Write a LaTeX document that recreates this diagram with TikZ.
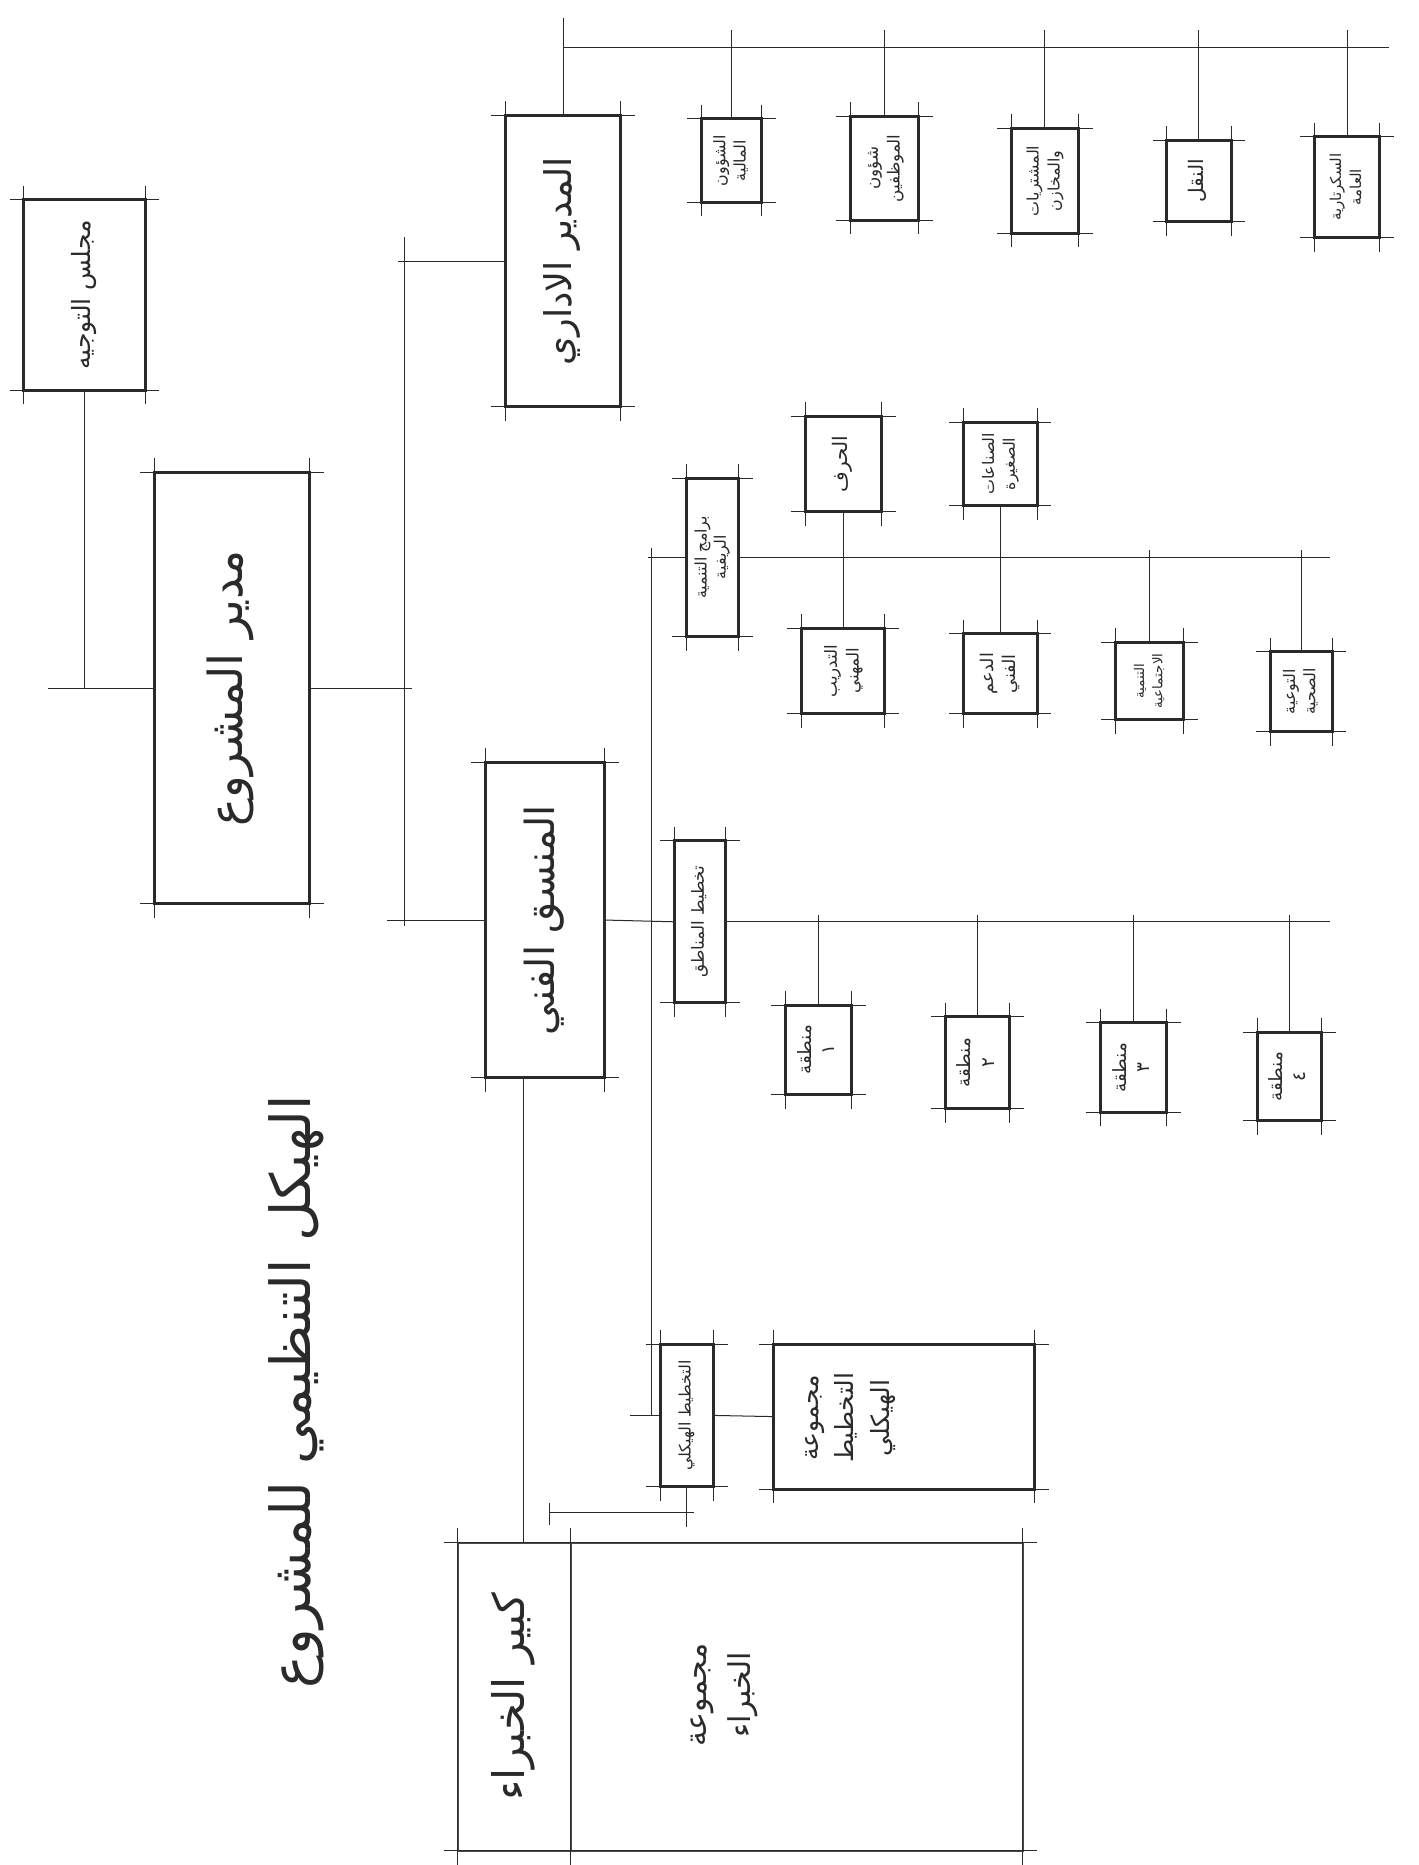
\documentclass[tikz,border=0pt]{standalone}
\usepackage{fontspec}
\usepackage{graphicx}
\usetikzlibrary{calc}
\newfontfamily\arabicfont[Script=Arabic]{DejaVu Sans}
\TeXXeTstate=1
\definecolor{ink}{HTML}{2A2A2A}
\newcommand\ar[1]{\beginR #1\endR}
\newcommand\rtx[3]{{\arabicfont\fontsize{#1}{#2}\selectfont\color{ink}\rotatebox{90}{\begin{tabular}{@{}c@{}}#3\end{tabular}}}}
\newcommand\ovh[1]{%
  \draw[ovl] ($(#1.north west)+(-12,0)$) -- ($(#1.north east)+(12,0)$);%
  \draw[ovl] ($(#1.south west)+(-12,0)$) -- ($(#1.south east)+(12,0)$);%
  \draw[ovl] ($(#1.north west)+(0,-12)$) -- ($(#1.south west)+(0,12)$);%
  \draw[ovl] ($(#1.north east)+(0,-12)$) -- ($(#1.south east)+(0,12)$);%
}
\newcommand\mkbox[7][bx]{%
  \pgfmathsetmacro\bxw{abs(#5-#3)*0.025}%
  \pgfmathsetmacro\bxh{abs(#6-#4)*0.025}%
  \pgfmathsetmacro\bxcx{(#3+#5)/2}%
  \pgfmathsetmacro\bxcy{(#4+#6)/2}%
  \node[#1, minimum width=\bxw cm, minimum height=\bxh cm] (#2) at (\bxcx,\bxcy) {#7};%
  \ovh{#2}%
}
\begin{document}
\begin{tikzpicture}[x=0.025cm,y=-0.025cm,
  bx/.style={draw=ink, line width=1.8pt, inner sep=0pt, outer sep=0pt, rectangle},
  tbx/.style={draw=ink!85, line width=1pt, inner sep=0pt, outer sep=0pt, rectangle},
  ovl/.style={draw=ink, line width=0.6pt},
  cn/.style={draw=ink, line width=0.6pt},
  txt/.style={inner sep=0pt, outer sep=0pt}]
\useasboundingbox[fill=white] (0,0) rectangle (1193,1568);

% main boxes
\mkbox{steer}{20}{168}{122}{328}{\rtx{15}{18}{\ar{مجلس التوجيه}}}
\mkbox{pm}{130}{397}{260}{760}{\rtx{28}{32}{\ar{مدير المشروع}}}
\mkbox{adm}{425}{97}{522}{342}{\rtx{22}{26}{\ar{المدير الاداري}}}
\mkbox{tech}{408}{641}{508}{906}{\rtx{24}{28}{\ar{المنسق الفني}}}

% administrative children
\mkbox{c1}{590}{100}{640}{170}{\rtx{9.5}{12}{\ar{الشؤون}\\\ar{المالية}}}
\mkbox{c2}{715}{98}{772}{185}{\rtx{10}{13}{\ar{شؤون}\\\ar{الموظفين}}}
\mkbox{c3}{850}{108}{907}{196}{\rtx{9.5}{12.5}{\ar{المشتريات}\\\ar{والمخازن}}}
\mkbox{c4}{981}{118}{1035}{186}{\rtx{12}{14}{\ar{النقل}}}
\mkbox{c5}{1105}{115}{1160}{200}{\rtx{9}{12}{\ar{السكرتارية}\\\ar{العامة}}}

% programmes group
\mkbox{P2}{577}{402}{621}{535}{\rtx{9.5}{11.5}{\ar{برامج التنمية}\\\ar{الريفية}}}
\mkbox{T1}{677}{350}{741}{430}{\rtx{12}{14}{\ar{الحرف}}}
\mkbox{T2}{810}{355}{872}{425}{\rtx{9.5}{12.5}{\ar{الصناعات}\\\ar{الصغيرة}}}
\mkbox{B1}{674}{528}{744}{600}{\rtx{10}{13}{\ar{التدريب}\\\ar{المهني}}}
\mkbox{B2}{810}{533}{872}{600}{\rtx{10.5}{13}{\ar{الدعم}\\\ar{الفني}}}
\mkbox{B3}{938}{540}{995}{605}{\rtx{8}{11}{\ar{التنمية}\\\ar{الاجتماعية}}}
\mkbox{B4}{1068}{548}{1120}{615}{\rtx{9.5}{12}{\ar{التوعية}\\\ar{الصحية}}}

% zones group
\mkbox{P3}{567}{707}{610}{843}{\rtx{10}{12}{\ar{تخطيط المناطق}}}
\mkbox{C1}{660}{845}{716}{920}{\rtx{11}{14}{\ar{منطقة}\\\ar{١}}}
\mkbox{C2}{795}{855}{849}{932}{\rtx{11}{14}{\ar{منطقة}\\\ar{٢}}}
\mkbox{C3}{925}{860}{981}{935}{\rtx{11}{14}{\ar{منطقة}\\\ar{٣}}}
\mkbox{C4}{1057}{868}{1111}{942}{\rtx{11}{14}{\ar{منطقة}\\\ar{٤}}}

% structural planning
\mkbox{P4}{555}{1130}{600}{1250}{\rtx{9.5}{11}{\ar{التخطيط الهيكلي}}}
\mkbox{W}{650}{1130}{870}{1252}{}
\node[txt] (wt) at (712,1192) {\rtx{15}{21}{\ar{مجموعة}\\\ar{التخطيط}\\\ar{الهيكلي}}};

% experts
\mkbox[tbx]{K}{385}{1297}{480}{1556}{\rtx{26}{30}{\ar{كبير الخبراء}}}
\mkbox[tbx]{E}{480}{1297}{860}{1556}{}
\node[txt] (et) at (605,1425) {\rtx{18}{26}{\ar{مجموعة}\\\ar{الخبراء}}};

% title
\node[txt] (title) at (250,1170) {\rtx{33}{38}{\ar{الهيكل التنظيمي للمشروع}}};

% connectors: steering committee
\coordinate (j1) at (40,0);
\draw[cn] (steer.south) -- (steer.south |- pm.west);
\draw[cn] (pm.west -| j1) -- (pm.west);

% project manager to the two managers
\coordinate (v1) at (340,0);
\draw[cn] (pm.east) -- ($(pm.east -| v1)+(6,0)$);
\draw[cn] ($(adm.west -| v1)+(0,-20)$) -- ($(tech.west -| v1)+(0,5)$);
\draw[cn] ($(adm.west -| v1)+(-5,0)$) -- (adm.west);
\draw[cn] ($(tech.west -| v1)+(-15,0)$) -- (tech.west);

% administrative bus
\coordinate (t0) at (0,15);
\coordinate (bus) at (0,40);
\coordinate (busR) at (1168,40);
\draw[cn] (adm.north) -- (adm.north |- t0);
\draw[cn] (adm.north |- bus) -- (busR);
\foreach \c in {c1,c2,c3,c4,c5}
  \draw[cn] (\c.north) -- ($(\c.north |- bus)+(0,-15)$);

% technical coordinator branches
\coordinate (v2) at (548,0);
\draw[cn] ($(P2.west -| v2)+(0,-8)$) -- (P4.west -| v2);
\draw[cn] ($(P2.west -| v2)+(-3,0)$) -- (P2.west);
\draw[cn] ($(P4.west -| v2)+(-18,0)$) -- (P4.west);
\draw[cn] (tech.east) -- (P3.west);

% programmes bus
\coordinate (b2R) at (1118,0);
\draw[cn] (P2.east) -- (P2.east -| b2R);
\draw[cn] (T1.south) -- (B1.north);
\draw[cn] (T2.south) -- (B2.north);
\draw[cn] (B3.north) -- ($(B3.north |- P2.east)+(0,-6)$);
\draw[cn] (B4.north) -- ($(B4.north |- P2.east)+(0,-6)$);

% zones bus
\draw[cn] (P3.east) -- (P3.east -| b2R);
\foreach \c in {C1,C2,C3,C4}
  \draw[cn] (\c.north) -- ($(\c.north |- P3.east)+(0,-6)$);

% structural planning links
\draw[cn] (P4.east) -- (W.west);
\coordinate (h1) at (462,1272);
\draw[cn] (P4.south) -- ($(P4.south |- h1)+(0,12)$);
\draw[cn] (h1) -- ($(h1 -| P4.south)+(6,0)$);
\draw[cn] ($(h1)+(0,-8)$) -- ($(h1)+(0,10)$);

% technical coordinator to chief expert
\coordinate (kx) at (440,0);
\draw[cn] (tech.south -| kx) -- (K.north -| kx);
\end{tikzpicture}
\end{document}
